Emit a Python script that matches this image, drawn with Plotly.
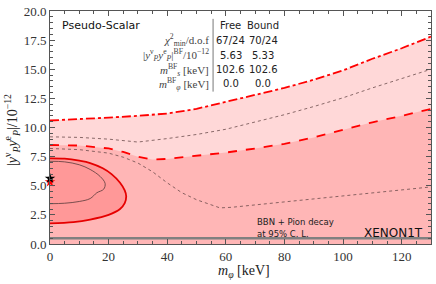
import plotly.graph_objects as go

# ---- data ----
m_outer = [0, 10, 20, 30, 40, 50, 60, 70, 80, 90, 100, 110, 120, 130]
y_dashdot = [10.6, 10.7, 10.85, 11.0, 11.2, 11.6, 12.2, 12.8, 13.4, 14.1, 14.9, 15.9, 16.8, 17.8]
y_dot_upper = [9.2, 9.15, 9.0, 8.75, 9.05, 9.4, 9.85, 10.45, 11.1, 11.8, 12.55, 13.4, 14.2, 15.0]

m_dashed = [0, 10, 20, 25, 30, 35, 40, 50, 60, 70, 80, 90, 100, 110, 120, 130]
y_dashed = [8.5, 8.45, 8.2, 7.9, 7.5, 7.25, 7.3, 7.55, 7.85, 8.2, 8.6, 9.15, 9.8, 10.45, 11.0, 11.6]

m_dot_lower = [0, 10, 20, 25, 30, 35, 40, 45, 50, 55, 58, 62, 70, 80, 90, 100, 110, 120, 130]
y_dot_lower = [8.2, 8.1, 7.8, 7.45, 6.95, 6.2, 5.25, 4.4, 3.8, 3.35, 3.1, 3.15, 3.35, 3.6, 3.85, 4.1, 4.35, 4.6, 4.9]

m_red_contour = [0, 5, 10, 13.7, 18, 21, 23.9, 25.5, 26, 25.5, 23.9, 20, 13.7, 8, 0]
y_red_contour = [7.35, 7.32, 7.15, 6.95, 6.5, 6.0, 5.26, 4.6, 4.1, 3.5, 3.0, 2.5, 2.1, 1.88, 1.77]

m_inner_contour = [0, 5, 10, 13.7, 17.1, 18.8, 18.3, 16, 13.7, 10, 5, 0]
y_inner_contour = [7.1, 7.05, 6.8, 6.4, 5.8, 5.2, 4.7, 4.4, 3.9, 3.65, 3.5, 3.46]

xenon_bound = 0.5
bf_free = (0.0, 5.63)
bf_bound = (0.0, 5.33)

row_labels = [
    "<i>χ</i><sup>2</sup><sub>min</sub>/d.o.f",
    "|<i>y</i><sup>ν</sup><sub><i>P</i></sub><i>y</i><sup>e</sup><sub><i>P</i></sub>|<sup>BF</sup>/10<sup>−12</sup>",
    "<i>m</i><sup>BF</sup><sub><i>s</i></sub> [keV]",
    "<i>m</i><sup>BF</sup><sub><i>φ</i></sub> [keV]",
]
col_free = ["67/24", "5.63", "102.6", "0.0"]
col_bound = ["70/24", "5.33", "102.6", "0.0"]

# ---- layout geometry (pixels) ----
W, H = 436, 284
L, R, T, B = 50, 4, 7, 40
pw, ph = W - L - R, H - T - B


def px(x):
    return (x - L) / pw


def py(y):
    return 1 - (y - T) / ph


fig = go.Figure()

fig.add_trace(go.Scatter(x=m_outer, y=y_dashdot, mode="lines", fill="tozeroy",
                         fillcolor="rgb(255,216,216)",
                         line=dict(color="rgb(255,0,0)", width=1.8, dash="dashdot"),
                         hoverinfo="skip"))
fig.add_trace(go.Scatter(x=m_dashed, y=y_dashed, mode="lines", fill="tozeroy",
                         fillcolor="rgb(255,182,182)",
                         line=dict(color="rgb(255,0,0)", width=1.8, dash="dash"),
                         hoverinfo="skip"))
fig.add_trace(go.Scatter(x=m_outer, y=y_dot_upper, mode="lines",
                         line=dict(color="rgba(100,70,70,0.85)", width=0.9, dash="dot"),
                         hoverinfo="skip"))
fig.add_trace(go.Scatter(x=m_dot_lower, y=y_dot_lower, mode="lines",
                         line=dict(color="rgba(100,70,70,0.85)", width=0.9, dash="dot"),
                         hoverinfo="skip"))
fig.add_trace(go.Scatter(x=m_red_contour, y=y_red_contour, mode="lines", fill="toself",
                         fillcolor="rgb(255,152,152)",
                         line=dict(color="rgb(230,0,0)", width=1.8, shape="spline"),
                         hoverinfo="skip"))
fig.add_trace(go.Scatter(x=m_inner_contour, y=y_inner_contour, mode="lines",
                         line=dict(color="rgba(90,60,60,0.9)", width=0.9, shape="spline"),
                         hoverinfo="skip"))
fig.add_trace(go.Scatter(x=[0, 130], y=[xenon_bound, xenon_bound], mode="lines",
                         line=dict(color="rgb(128,128,128)", width=2.5),
                         hoverinfo="skip"))
fig.add_trace(go.Scatter(x=[bf_bound[0]], y=[bf_bound[1]], mode="markers",
                         marker=dict(symbol="star", size=8, color="red"),
                         cliponaxis=False, hoverinfo="skip"))
fig.add_trace(go.Scatter(x=[bf_free[0]], y=[bf_free[1]], mode="markers",
                         marker=dict(symbol="star", size=8, color="black"),
                         cliponaxis=False, hoverinfo="skip"))

axis_common = dict(showline=True, linecolor="#555", linewidth=1, mirror="allticks",
                   ticks="inside", ticklen=5, tickcolor="#555", showgrid=False,
                   zeroline=False, ticklabeloverflow="allow",
                   tickfont=dict(family="Liberation Serif", size=13, color="#333"))

fig.update_xaxes(range=[0, 130], dtick=20, tick0=0,
                 minor=dict(ticks="inside", ticklen=3, dtick=5, tickcolor="#555"),
                 **axis_common)
fig.update_yaxes(range=[0, 20], dtick=2.5, tick0=0, tickformat=".1f",
                 minor=dict(ticks="inside", ticklen=3, dtick=0.5, tickcolor="#555"),
                 **axis_common)

ann = []
ann.append(dict(x=px(60), y=py(22), xref="paper", yref="paper", xanchor="left",
                yanchor="middle", text="Pseudo-Scalar", showarrow=False,
                font=dict(family="DejaVu Sans", size=11, color="#111")))
rows_y = [37, 52, 67, 81]
for ry, lab, f, b in zip(rows_y, row_labels, col_free, col_bound):
    ann.append(dict(x=px(211), y=py(ry), xref="paper", yref="paper", xanchor="right",
                    yanchor="middle", text=lab, showarrow=False,
                    font=dict(family="Liberation Serif", size=11, color="#444")))
    ann.append(dict(x=px(231), y=py(ry), xref="paper", yref="paper", xanchor="center",
                    yanchor="middle", text=f, showarrow=False,
                    font=dict(family="DejaVu Sans", size=10, color="#222")))
    ann.append(dict(x=px(264), y=py(ry), xref="paper", yref="paper", xanchor="center",
                    yanchor="middle", text=b, showarrow=False,
                    font=dict(family="DejaVu Sans", size=10, color="#222")))
ann.append(dict(x=px(231), y=py(22), xref="paper", yref="paper", xanchor="center",
                yanchor="middle", text="Free", showarrow=False,
                font=dict(family="DejaVu Sans", size=10, color="#222")))
ann.append(dict(x=px(264), y=py(22), xref="paper", yref="paper", xanchor="center",
                yanchor="middle", text="Bound", showarrow=False,
                font=dict(family="DejaVu Sans", size=10, color="#222")))
ann.append(dict(x=px(256), y=py(222), xref="paper", yref="paper", xanchor="left",
                yanchor="middle", text="BBN + Pion decay", showarrow=False,
                font=dict(family="DejaVu Sans", size=8.5, color="#222")))
ann.append(dict(x=px(256), y=py(234), xref="paper", yref="paper", xanchor="left",
                yanchor="middle", text="at 95% C. L.", showarrow=False,
                font=dict(family="DejaVu Sans", size=8.5, color="#222")))
ann.append(dict(x=px(426), y=py(233), xref="paper", yref="paper", xanchor="right",
                yanchor="middle", text="XENON1T", showarrow=False,
                font=dict(family="DejaVu Sans", size=12, color="#111")))
# axis titles
ann.append(dict(x=px(245), y=py(272), xref="paper", yref="paper", xanchor="center",
                yanchor="middle", text="<i>m</i><sub><i>φ</i></sub> [keV]", showarrow=False,
                font=dict(family="Liberation Serif", size=14, color="#222")))
ann.append(dict(x=px(12), y=py(128), xref="paper", yref="paper", xanchor="center",
                yanchor="middle", textangle=-90,
                text="|<i>y</i><sup>ν</sup><sub><i>P</i></sub><i>y</i><sup>e</sup><sub><i>P</i></sub>|/10<sup>−12</sup>",
                showarrow=False,
                font=dict(family="Liberation Serif", size=14, color="#222")))

shapes = [dict(type="line", xref="paper", yref="paper", x0=px(213.5), x1=px(213.5),
               y0=py(15), y1=py(89), line=dict(color="#777", width=1))]

fig.update_layout(width=W, height=H, margin=dict(l=L, r=R, t=T, b=B),
                  paper_bgcolor="white", plot_bgcolor="white", showlegend=False,
                  annotations=ann, shapes=shapes)

fig.write_html("out.html", config={"displayModeBar": False},
               post_script="document.body.style.margin='0px';document.body.style.padding='0px';")
